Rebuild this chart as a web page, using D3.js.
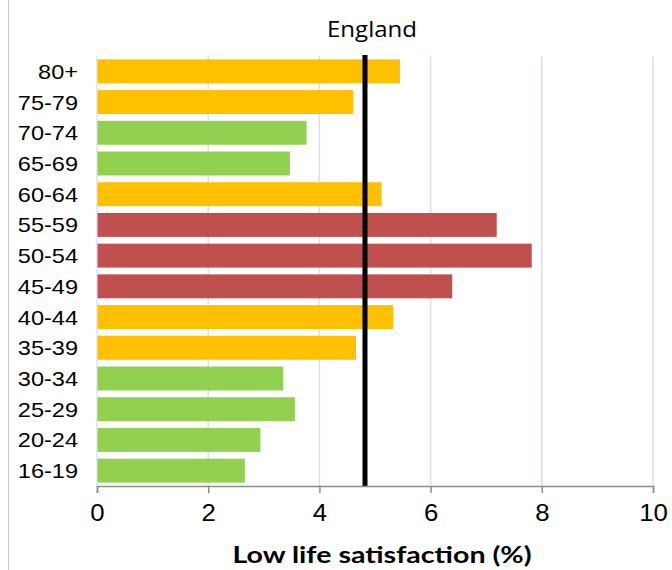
<!DOCTYPE html>
<html>
<head>
<meta charset="utf-8">
<script src="https://cdn.jsdelivr.net/npm/d3@7"></script>
<style>
    body { margin: 0; background: #fff; }
    svg { display: block; }
</style>
</head>
<body>
<div id="chart"></div>
<script>
var width = 672;
var height = 570;

// Data
var ageGroups = ["80+", "75-79", "70-74", "65-69", "60-64", "55-59", "50-54",
                 "45-49", "40-44", "35-39", "30-34", "25-29", "20-24", "16-19"];
var lowSatisfaction = [5.44, 4.60, 3.76, 3.46, 5.11, 7.18, 7.81,
                       6.38, 5.32, 4.65, 3.34, 3.55, 2.93, 2.65];
var bandGroup = ["mid", "mid", "low", "low", "mid", "high", "high",
                 "high", "mid", "mid", "low", "low", "low", "low"];
var englandAverage = 4.82;
var xTicks = [0, 2, 4, 6, 8, 10];

var colors = {
    "low": "#92D050",
    "mid": "#FFC000",
    "high": "#C0504D"
};

var STRETCH = 1.12; // the original picture is a bit wider than tall

var margin = { left: 97, right: 19, top: 56, bottom: 84 };

var svg = d3.select("#chart").append("svg")
    .attr("width", width)
    .attr("height", height);

// thin frame line on the left edge
svg.append("line")
    .attr("x1", 8.5).attr("x2", 8.5)
    .attr("y1", 0).attr("y2", height)
    .attr("stroke", "#c8c8c8")
    .attr("stroke-width", 1);

var scaleX = d3.scaleLinear().domain([0, 10]).range([margin.left, width - margin.right]);
var scaleY = d3.scaleBand().domain(ageGroups)
    .range([margin.top, height - margin.bottom])
    .paddingInner(0.22).paddingOuter(0.11);

// Gridlines
svg.append("g")
    .selectAll("line")
    .data(xTicks.slice(1))
    .enter().append("line")
    .attr("x1", function(d) { return scaleX(d); })
    .attr("x2", function(d) { return scaleX(d); })
    .attr("y1", margin.top)
    .attr("y2", height - margin.bottom)
    .attr("stroke", "#d5e1ef")
    .attr("stroke-width", 1.5);

// y axis line
svg.append("line")
    .attr("x1", scaleX(0)).attr("x2", scaleX(0))
    .attr("y1", margin.top).attr("y2", height - margin.bottom)
    .attr("stroke", "#c9d6e8")
    .attr("stroke-width", 1);

// Bars
svg.append("g")
    .selectAll("rect")
    .data(ageGroups)
    .enter().append("rect")
    .attr("x", scaleX(0) + 0.5)
    .attr("y", function(d) { return scaleY(d); })
    .attr("width", function(d, i) { return scaleX(lowSatisfaction[i]) - scaleX(0); })
    .attr("height", scaleY.bandwidth())
    .attr("fill", function(d, i) { return colors[bandGroup[i]]; });

// England average line
svg.append("line")
    .attr("x1", scaleX(englandAverage)).attr("x2", scaleX(englandAverage))
    .attr("y1", margin.top - 1).attr("y2", height - margin.bottom)
    .attr("stroke", "#000")
    .attr("stroke-width", 5);

// widen a text node horizontally to mimic the stretched original
function stretchText(sel) {
    sel.each(function() {
        var len = this.getComputedTextLength();
        d3.select(this)
            .attr("textLength", len * STRETCH)
            .attr("lengthAdjust", "spacingAndGlyphs");
    });
}

// x axis
var xAxis = d3.axisBottom(scaleX).tickValues(xTicks).tickSize(7).tickPadding(12)
    .tickFormat(d3.format("d"));
var gx = svg.append("g")
    .attr("transform", "translate(0," + (height - margin.bottom) + ")")
    .call(xAxis);
gx.select(".domain").attr("stroke", "#8c8c8c").attr("stroke-width", 1.5);
gx.selectAll(".tick line").attr("stroke", "#8c8c8c").attr("stroke-width", 1.5);
gx.selectAll(".tick text")
    .attr("fill", "#000")
    .style("font-family", "'Liberation Sans', Arial, sans-serif")
    .style("font-size", "23px")
    .call(stretchText);

// y labels
svg.append("g")
    .selectAll("text")
    .data(ageGroups)
    .enter().append("text")
    .attr("x", 78)
    .attr("y", function(d) { return scaleY(d) + scaleY.bandwidth() / 2; })
    .attr("dy", "0.36em")
    .attr("text-anchor", "end")
    .style("font-family", "'Liberation Sans', Arial, sans-serif")
    .style("font-size", "21px")
    .text(function(d) { return d; })
    .call(stretchText);

// Title
svg.append("text")
    .attr("x", 372)
    .attr("y", 37)
    .attr("text-anchor", "middle")
    .attr("textLength", 90)
    .attr("lengthAdjust", "spacingAndGlyphs")
    .style("font-family", "'Open Sans', Lato, sans-serif")
    .style("font-size", "21px")
    .text("England");

// Axis title
svg.append("text")
    .attr("x", 382)
    .attr("y", 563)
    .attr("text-anchor", "middle")
    .attr("textLength", 299)
    .attr("lengthAdjust", "spacingAndGlyphs")
    .style("font-family", "Lato, 'Open Sans', sans-serif")
    .style("font-weight", "bold")
    .style("font-size", "23px")
    .text("Low life satisfaction (%)");
</script>
</body>
</html>
